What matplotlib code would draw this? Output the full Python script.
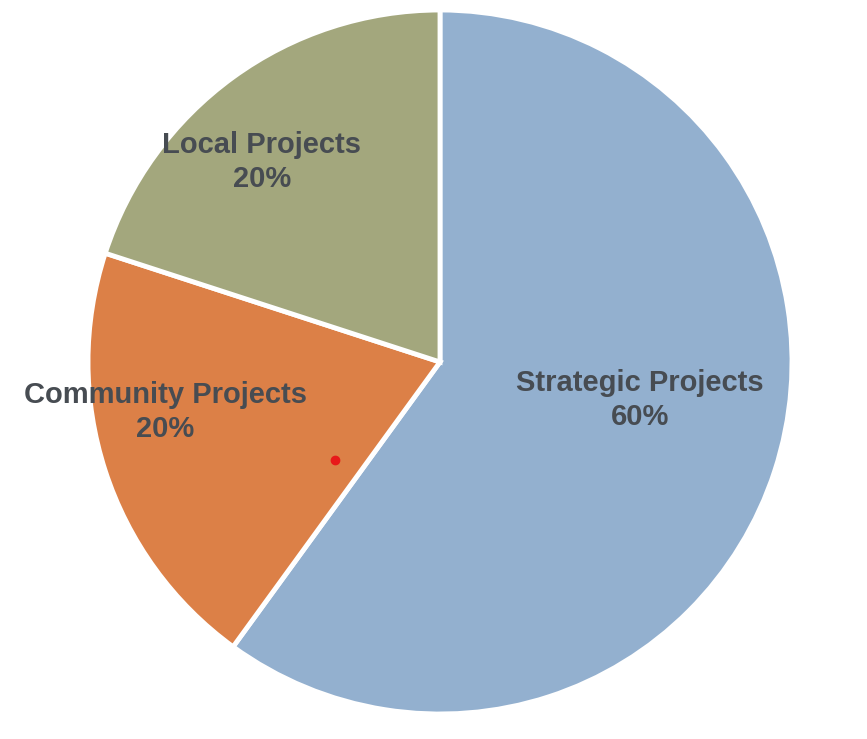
import matplotlib.pyplot as plt

# Data
categories = ["Strategic Projects", "Community Projects", "Local Projects"]
shares = [60, 20, 20]
colors = ["#93b0cf", "#dc8047", "#a3a77d"]

# label anchor points (data units, pie radius = 1)
label_pos = [(0.568, -0.108), (-0.781, -0.142), (-0.506, 0.568)]

fig = plt.figure(figsize=(8.67, 7.39), dpi=100)
ax = fig.add_axes([0, 0, 1, 1])

ax.pie(shares, colors=colors, startangle=90, counterclock=False,
       radius=1.0, center=(0, 0),
       wedgeprops=dict(edgecolor="white", linewidth=3.5))

for name, val, (x, y) in zip(categories, shares, label_pos):
    ax.text(x, y, f"{name}\n{val}%", ha="center", va="center",
            fontsize=21, fontweight="bold", family="Liberation Sans",
            color="#474c52", linespacing=1.25)

# small red marker inside the orange slice
ax.plot([-0.298], [-0.278], "o", color="#e8191a", markersize=6)

ax.set_xlim(-440 / 352, (867 - 440) / 352)
ax.set_ylim(-377 / 352, 362 / 352)
ax.set_aspect("auto")
ax.axis("off")

fig.savefig("out.png", dpi=100)
